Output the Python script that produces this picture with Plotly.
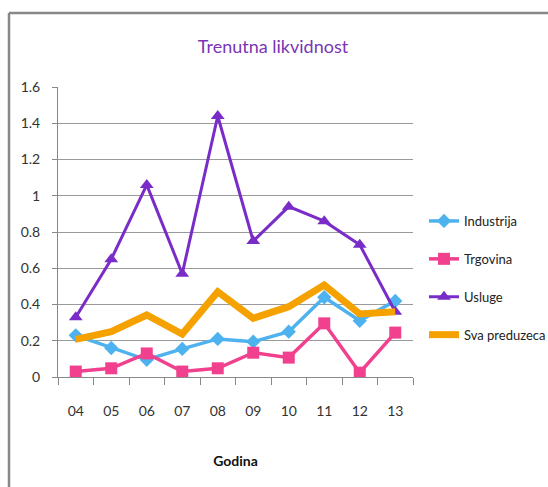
import plotly.graph_objects as go

years = ["04", "05", "06", "07", "08", "09", "10", "11", "12", "13"]
industrija = [0.23, 0.16, 0.095, 0.155, 0.21, 0.195, 0.25, 0.44, 0.31, 0.42]
trgovina = [0.03, 0.048, 0.13, 0.03, 0.048, 0.134, 0.107, 0.296, 0.024, 0.245]
usluge = [0.33, 0.65, 1.06, 0.57, 1.44, 0.75, 0.94, 0.86, 0.73, 0.36]
sva = [0.208, 0.25, 0.342, 0.237, 0.47, 0.324, 0.388, 0.507, 0.348, 0.36]

FONT = "Lato, Open Sans, sans-serif"

# plot area in pixels
L, R, T, B = 58, 413, 87, 377
W, H = 548, 487

def px(x):
    return (x - L) / (R - L)

def py(y):
    return (B - y) / (B - T)

fig = go.Figure()
fig.add_trace(go.Scatter(x=years, y=industrija, name="Industrija", legendgroup="a",
                         mode="lines+markers",
                         line=dict(color="#4DB2EE", width=3.5),
                         marker=dict(symbol="diamond", size=11, color="#4DB2EE")))
fig.add_trace(go.Scatter(x=years, y=trgovina, name="Trgovina", legendgroup="b",
                         mode="lines+markers",
                         line=dict(color="#F0408E", width=3.5),
                         marker=dict(symbol="square", size=12, color="#F0408E")))
fig.add_trace(go.Scatter(x=years, y=usluge, name="Usluge", legendgroup="c",
                         mode="lines+markers",
                         line=dict(color="#7A2CC8", width=3),
                         marker=dict(symbol="triangle-up", size=12, color="#7A2CC8")))
fig.add_trace(go.Scatter(x=years, y=sva, name="Sva preduzeca", legendgroup="d",
                         mode="lines",
                         line=dict(color="#F5A100", width=7)))

fig.update_layout(
    width=W, height=H,
    margin=dict(l=L, r=W - R, t=T, b=H - B, autoexpand=False),
    paper_bgcolor="white", plot_bgcolor="white",
    font=dict(family=FONT, size=14, color="#333333"),
    title=dict(text="Trenutna likvidnost", x=273 / W, xanchor="center",
               xref="container",
               y=1 - 47 / H, yanchor="middle",
               font=dict(family=FONT, size=18, color="#7A35B5")),
    showlegend=True,
    legend=dict(x=px(424), y=py(206), xanchor="left", yanchor="top",
                tracegroupgap=18, font=dict(size=13, color="#222222"),
                bgcolor="rgba(0,0,0,0)", itemwidth=30),
    xaxis=dict(type="category", range=[-0.5, 9.5], showgrid=False,
               showline=True, linecolor="#888888", linewidth=1,
               ticks="outside", tickson="boundaries", ticklen=7,
               tickcolor="#888888", ticklabelstandoff=21,
               title=dict(text="<b>Godina</b>", standoff=38,
                          font=dict(size=14, color="#111111"))),
    yaxis=dict(range=[0, 1.6], dtick=0.2, tickformat="~g",
               showgrid=True, gridcolor="#9a9a9a", gridwidth=1,
               showline=True, linecolor="#888888", linewidth=1,
               ticks="outside", ticklen=5, tickcolor="#888888",
               ticklabelstandoff=9, zeroline=False),
)

# outer frame lines (left and top)
fig.add_shape(type="line", xref="paper", yref="paper",
              x0=px(9), x1=px(9), y0=py(13), y1=py(500),
              line=dict(color="#888888", width=2.5))
fig.add_shape(type="line", xref="paper", yref="paper",
              x0=px(9), x1=px(560), y0=py(13), y1=py(13),
              line=dict(color="#888888", width=2.5))

fig.write_html("out.html", config={"displayModeBar": False},
               post_script="document.body.style.margin='0';document.body.style.overflow='hidden';")
